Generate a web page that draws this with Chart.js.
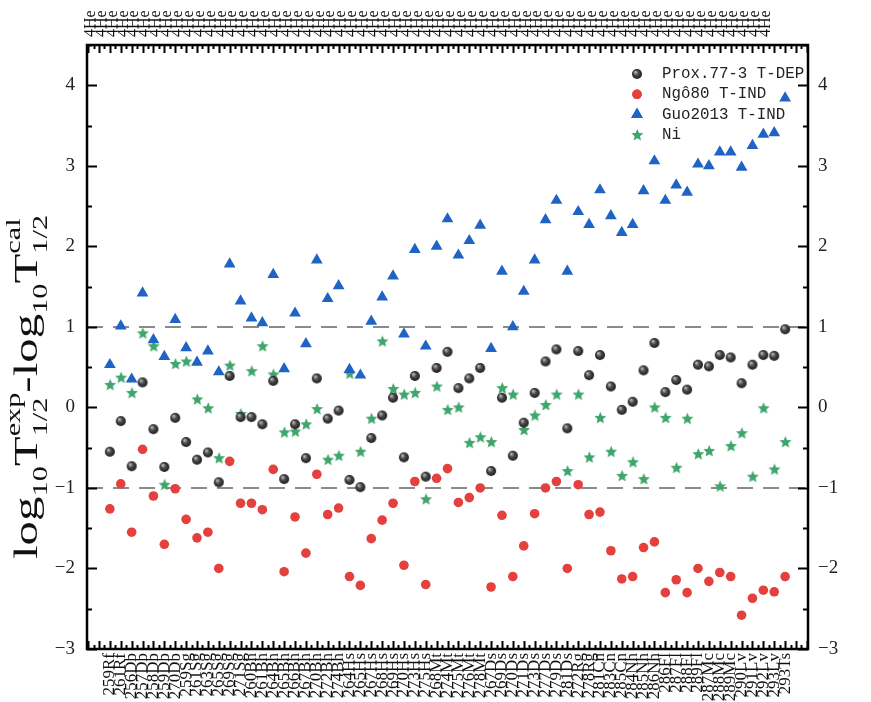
<!DOCTYPE html>
<html>
<head>
<meta charset="utf-8">
<script src="https://cdn.jsdelivr.net/npm/chart.js@4.4.1/dist/chart.umd.min.js"></script>
<style>
  html, body { margin: 0; padding: 0; background: #fff; }
</style>
</head>
<body>
<canvas id="chart" width="871" height="702"></canvas>
<script>
// 核素 (x 軸標籤)
var nuclei = ['259Rf', '261Rf', '256Db', '257Db', '258Db', '259Db', '270Db',
  '259Sg', '261Sg', '263Sg', '265Sg', '269Sg', '271Sg',
  '260Bh', '261Bh', '264Bh', '265Bh', '266Bh', '267Bh', '270Bh', '272Bh', '274Bh',
  '264Hs', '265Hs', '267Hs', '268Hs', '269Hs', '270Hs', '273Hs', '275Hs',
  '268Mt', '274Mt', '275Mt', '276Mt', '278Mt',
  '267Ds', '269Ds', '270Ds', '271Ds', '273Ds', '277Ds', '279Ds', '281Ds',
  '272Rg', '278Rg', '281Cn', '283Cn', '285Cn', '284Nh', '285Nh', '286Nh',
  '286Fl', '287Fl', '288Fl', '289Fl', '287Mc', '288Mc', '289Mc',
  '290Lv', '291Lv', '292Lv', '293Lv', '293Ts'];
var topLabel = '4He';

// 各模型 log10(Texp) - log10(Tcal)
var prox = [-0.55, -0.17, -0.73, 0.31, -0.27, -0.74, -0.13, -0.43, -0.65, -0.56, -0.93, 0.39, -0.12,
  -0.12, -0.21, 0.33, -0.89, -0.21, -0.63, 0.36, -0.14, -0.04, -0.90, -0.99, -0.38, -0.10, 0.12,
  -0.62, 0.39, -0.86, 0.49, 0.69, 0.24, 0.36, 0.49, -0.79, 0.12, -0.60, -0.19, 0.18, 0.57, 0.72,
  -0.26, 0.70, 0.40, 0.65, 0.26, -0.03, 0.07, 0.46, 0.80, 0.19, 0.34, 0.22, 0.53, 0.51, 0.65,
  0.62, 0.30, 0.53, 0.65, 0.64, 0.97];
var ngo = [-1.26, -0.95, -1.55, -0.52, -1.10, -1.70, -1.01, -1.39, -1.62, -1.55, -2.00, -0.67, -1.19,
  -1.19, -1.27, -0.77, -2.04, -1.36, -1.81, -0.83, -1.33, -1.25, -2.10, -2.21, -1.63, -1.40, -1.19,
  -1.96, -0.92, -2.20, -0.88, -0.76, -1.18, -1.12, -1.00, -2.23, -1.34, -2.10, -1.72, -1.32, -1.00,
  -0.92, -2.00, -0.96, -1.33, -1.30, -1.78, -2.13, -2.10, -1.74, -1.67, -2.30, -2.14, -2.30, -2.00,
  -2.16, -2.05, -2.10, -2.58, -2.37, -2.27, -2.29, -2.10];
var guo = [0.53, 1.01, 0.35, 1.42, 0.84, 0.63, 1.09, 0.74, 0.56, 0.70, 0.44, 1.78, 1.32,
  1.11, 1.05, 1.65, 0.48, 1.17, 0.79, 1.83, 1.35, 1.51, 0.47, 0.40, 1.07, 1.37, 1.63,
  0.91, 1.96, 0.76, 2.00, 2.34, 1.89, 2.07, 2.26, 0.73, 1.69, 1.00, 1.44, 1.83, 2.33, 2.57,
  1.69, 2.43, 2.27, 2.70, 2.38, 2.17, 2.27, 2.69, 3.06, 2.57, 2.76, 2.67, 3.02, 3.00, 3.17,
  3.17, 2.98, 3.25, 3.39, 3.41, 3.84];
var ni = [0.28, 0.37, 0.18, 0.92, 0.76, -0.96, 0.54, 0.57, 0.10, -0.01, -0.63, 0.52, -0.08,
  0.45, 0.76, 0.41, -0.31, -0.30, -0.21, -0.02, -0.65, -0.60, 0.42, -0.55, -0.14, 0.82, 0.23,
  0.16, 0.18, -1.14, 0.26, -0.03, 0.00, -0.44, -0.37, -0.43, 0.24, 0.16, -0.28, -0.10, 0.03,
  0.16, -0.79, 0.16, -0.62, -0.13, -0.55, -0.85, -0.68, -0.89, 0.00, -0.13, -0.75, -0.14,
  -0.58, -0.54, -0.98, -0.48, -0.32, -0.86, -0.01, -0.77, -0.43];

var yTicks = [-3, -2, -1, 0, 1, 2, 3, 4];
var refLines = [1, -1];

function toPts(arr) {
  return arr.map(function (v, i) { return { x: i, y: v }; });
}

// 黑色小球
function sphere(r) {
  var c = document.createElement('canvas');
  c.width = c.height = r * 2 + 2;
  var g = c.getContext('2d');
  var m = r + 1;
  var grad = g.createRadialGradient(m - r * 0.35, m - r * 0.4, r * 0.1, m, m, r);
  grad.addColorStop(0, '#b5b5b5');
  grad.addColorStop(0.45, '#4a4a4a');
  grad.addColorStop(1, '#1c1c1c');
  g.fillStyle = grad;
  g.beginPath();
  g.arc(m, m, r, 0, Math.PI * 2);
  g.fill();
  return c;
}

// 綠色星星
function star(r, color) {
  var c = document.createElement('canvas');
  c.width = c.height = r * 2 + 2;
  var g = c.getContext('2d');
  g.fillStyle = color;
  g.beginPath();
  for (var i = 0; i < 10; i++) {
    var rr = i % 2 === 0 ? r : r * 0.45;
    var a = -Math.PI / 2 + i * Math.PI / 5;
    g.lineTo(r + 1 + rr * Math.cos(a), r + 1 + rr * Math.sin(a));
  }
  g.closePath();
  g.fill();
  return c;
}

var ballImg = sphere(5);
var starImg = star(6.3, '#3ea56b');

var xMin = -2.1, xMax = 64.1;

function minusSign(v) {
  return v < 0 ? '\u2212' + Math.abs(v) : String(v);
}

function nucleusTicks(s) {
  s.ticks = nuclei.map(function (n, i) { return { value: i }; });
}

var decor = {
  id: 'decor',
  beforeDatasetsDraw: function (chart) {
    var ctx = chart.ctx, a = chart.chartArea, y = chart.scales.y;
    ctx.save();
    ctx.strokeStyle = '#8a8a8a';
    ctx.lineWidth = 2;
    ctx.setLineDash([16, 10]);
    refLines.forEach(function (v) {
      var py = Math.round(y.getPixelForValue(v));
      ctx.beginPath();
      ctx.moveTo(a.left, py);
      ctx.lineTo(a.right, py);
      ctx.stroke();
    });
    ctx.restore();
  },
  afterDraw: function (chart) {
    var ctx = chart.ctx, a = chart.chartArea;
    var x = chart.scales.x, y = chart.scales.y;
    ctx.save();
    ctx.strokeStyle = '#000';
    // 刻度 (朝內)
    ctx.lineWidth = 2;
    for (var v = Math.ceil(xMin * 2) / 2; v <= xMax; v += 0.5) {
      var px = Math.round(x.getPixelForValue(v)) + 0.5;
      var len = Number.isInteger(v) ? 8 : 4;
      ctx.beginPath();
      ctx.moveTo(px, a.bottom); ctx.lineTo(px, a.bottom - len);
      ctx.moveTo(px, a.top); ctx.lineTo(px, a.top + len);
      ctx.stroke();
    }
    for (var w = -3; w <= 4.5; w += 0.5) {
      var py = Math.round(y.getPixelForValue(w)) + 0.5;
      var l2 = Number.isInteger(w) ? 10 : 5;
      ctx.beginPath();
      ctx.moveTo(a.left, py); ctx.lineTo(a.left + l2, py);
      ctx.moveTo(a.right, py); ctx.lineTo(a.right - l2, py);
      ctx.stroke();
    }
    // 外框
    ctx.lineWidth = 2.5;
    ctx.strokeRect(a.left, a.top, a.right - a.left, a.bottom - a.top);

    // 圖例
    var lx = 637, ly = 74;
    ctx.font = '15.8px "Liberation Mono"';
    ctx.textBaseline = 'middle';
    chart.data.datasets.forEach(function (ds, i) {
      var yy = ly + i * 20.3;
      ctx.fillStyle = ds.backgroundColor;
      Chart.helpers.drawPoint(ctx, {
        pointStyle: ds.pointStyle, rotation: 0, borderWidth: 0,
        radius: ds.legendRadius
      }, lx, yy);
      if (typeof ds.pointStyle === 'string') {
        ctx.fill();
      }
      ctx.fillStyle = '#222';
      ctx.fillText(ds.label, 662, yy);
    });

    // y 軸標題
    var F = 34, S = 21, fam = '"Liberation Serif"', stretch = 1.44;
    var parts = [
      { t: 'log', s: F, dy: 0 },
      { t: '10', s: S, dy: 0.3 * F },
      { t: 'T', s: F, dy: 0 },
      { stack: ['exp', '1/2'] },
      { t: '-log', s: F, dy: 0 },
      { t: '10', s: S, dy: 0.3 * F },
      { t: 'T', s: F, dy: 0 },
      { stack: ['cal', '1/2'] }
    ];
    var total = 0;
    parts.forEach(function (p) {
      if (p.stack) {
        ctx.font = S + 'px ' + fam;
        p.w = Math.max(ctx.measureText(p.stack[0]).width, ctx.measureText(p.stack[1]).width);
      } else {
        ctx.font = p.s + 'px ' + fam;
        p.w = ctx.measureText(p.t).width;
      }
      total += p.w;
    });
    ctx.translate(37, 387);
    ctx.rotate(-Math.PI / 2);
    ctx.scale(stretch, 1);
    ctx.textBaseline = 'alphabetic';
    ctx.textAlign = 'left';
    ctx.fillStyle = '#111';
    var cx = -total / 2;
    parts.forEach(function (p) {
      if (p.stack) {
        ctx.font = S + 'px ' + fam;
        ctx.fillText(p.stack[0], cx, -0.5 * F);
        ctx.fillText(p.stack[1], cx, 0.3 * F);
      } else {
        ctx.font = p.s + 'px ' + fam;
        ctx.fillText(p.t, cx, p.dy);
      }
      cx += p.w;
    });
    ctx.restore();
  }
};

var ctx = document.getElementById('chart').getContext('2d');
var chart = new Chart(ctx, {
  type: 'scatter',
  data: {
    datasets: [{
      label: 'Prox.77-3 T-DEP',
      data: toPts(prox),
      pointStyle: ballImg,
      legendRadius: 5,
      backgroundColor: '#333'
    }, {
      label: 'Ngô80 T-IND',
      data: toPts(ngo),
      pointStyle: 'circle',
      pointRadius: 4.8,
      legendRadius: 4.8,
      backgroundColor: '#e4403d',
      borderWidth: 0
    }, {
      label: 'Guo2013 T-IND',
      data: toPts(guo),
      pointStyle: 'triangle',
      pointRadius: 6.8,
      legendRadius: 6.8,
      backgroundColor: '#1f63c4',
      borderWidth: 0
    }, {
      label: 'Ni',
      data: toPts(ni),
      pointStyle: starImg,
      legendRadius: 6,
      backgroundColor: '#3ea56b'
    }]
  },
  options: {
    responsive: false,
    animation: false,
    events: [],
    layout: { padding: 0 },
    plugins: { legend: { display: false }, tooltip: { enabled: false } },
    scales: {
      x: {
        type: 'linear', position: 'bottom', min: xMin, max: xMax,
        afterBuildTicks: nucleusTicks,
        afterFit: function (s) { s.height = 53; },
        grid: { display: false, drawTicks: false },
        border: { display: false },
        ticks: {
          autoSkip: false, minRotation: 90, maxRotation: 90, padding: 4,
          color: '#111', font: { family: 'Liberation Serif', size: 17 },
          callback: function (v) { return nuclei[v]; }
        }
      },
      x2: {
        type: 'linear', position: 'top', min: xMin, max: xMax,
        afterBuildTicks: nucleusTicks,
        afterFit: function (s) { s.height = 45; },
        grid: { display: false, drawTicks: false },
        border: { display: false },
        ticks: {
          autoSkip: false, minRotation: 90, maxRotation: 90, padding: 8,
          color: '#111', font: { family: 'Liberation Serif', size: 16 },
          callback: function () { return topLabel; }
        }
      },
      y: {
        min: -3, max: 4.5, position: 'left',
        afterBuildTicks: function (s) { s.ticks = yTicks.map(function (v) { return { value: v }; }); },
        afterFit: function (s) { s.width = 87; },
        grid: { display: false, drawTicks: false },
        border: { display: false },
        ticks: {
          padding: 12, color: '#222', font: { family: 'Liberation Serif', size: 19 },
          callback: minusSign
        }
      },
      y2: {
        min: -3, max: 4.5, position: 'right',
        afterBuildTicks: function (s) { s.ticks = yTicks.map(function (v) { return { value: v }; }); },
        afterFit: function (s) { s.width = 63; },
        grid: { display: false, drawTicks: false },
        border: { display: false },
        ticks: {
          padding: 10, color: '#222', font: { family: 'Liberation Serif', size: 19 },
          callback: minusSign
        }
      }
    }
  },
  plugins: [decor]
});
</script>
</body>
</html>
